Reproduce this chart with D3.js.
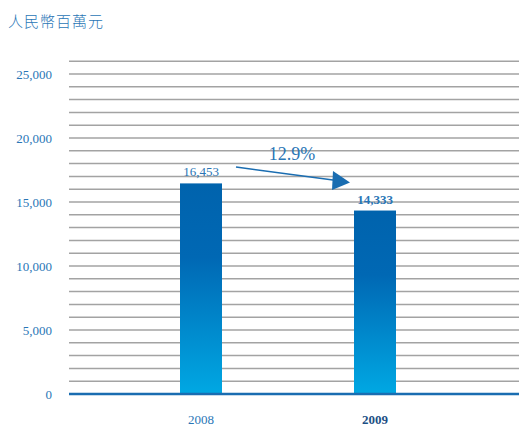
<!DOCTYPE html>
<html><head><meta charset="utf-8">
<script src="https://cdn.jsdelivr.net/npm/d3@7"></script>
<style>body{margin:0;background:#fff}svg{display:block}</style>
</head><body>
<script>
const categories = ["2008", "2009"];
const values = [16453, 14333];
const valueLabels = ["16,453", "14,333"];
const yTicks = [0, 5000, 10000, 15000, 20000, 25000];
const gridValues = d3.range(1000, 26001, 1000);
const unitLabel = "人民幣百萬元";
const changeLabel = "12.9%";

const W = 519, H = 427;
const svg = d3.select("body").append("svg").attr("width", W).attr("height", H);
const y = d3.scaleLinear().domain([0, 25000]).range([394, 74]);
const x = d3.scaleBand().domain(categories).range([114, 462]);
const barW = 42;
const blue = "#2a76b6";

const defs = svg.append("defs");
const g = defs.append("linearGradient").attr("id", "bg").attr("x1", 0).attr("y1", 0).attr("x2", 0).attr("y2", 1);
g.append("stop").attr("offset", "0%").attr("stop-color", "#0063ad");
g.append("stop").attr("offset", "35%").attr("stop-color", "#0068b4");
g.append("stop").attr("offset", "100%").attr("stop-color", "#00a8e3");

svg.append("text").attr("x", 8).attr("y", 27).attr("fill", blue)
  .attr("font-family", "Noto Sans CJK TC").attr("font-size", 15).attr("font-weight", 300)
  .attr("letter-spacing", 1).text(unitLabel);

svg.append("g").selectAll("line").data(gridValues).join("line")
  .attr("x1", 69).attr("x2", W).attr("y1", d => y(d)).attr("y2", d => y(d))
  .attr("stroke", "#a3a3a3").attr("stroke-width", 1.5);

svg.append("g").selectAll("text").data(yTicks).join("text")
  .attr("x", 52).attr("y", d => y(d) + 4.5).attr("text-anchor", "end")
  .attr("font-family", "Liberation Serif").attr("font-size", 13).attr("fill", blue)
  .text(d => d3.format(",")(d));

svg.append("g").selectAll("rect").data(values).join("rect")
  .attr("x", (d, i) => x(categories[i]) + (x.bandwidth() - barW) / 2)
  .attr("width", barW)
  .attr("y", d => y(d)).attr("height", d => y(0) - y(d))
  .attr("fill", "url(#bg)");

svg.append("line").attr("x1", 69).attr("x2", W).attr("y1", y(0)).attr("y2", y(0))
  .attr("stroke", "#1a6db1").attr("stroke-width", 2.5);

svg.append("g").selectAll("text").data(values).join("text")
  .attr("x", (d, i) => x(categories[i]) + x.bandwidth() / 2)
  .attr("y", d => y(d) - 7)
  .attr("text-anchor", "middle").attr("font-family", "Liberation Serif").attr("font-size", 13)
  .attr("font-weight", (d, i) => i === 1 ? "bold" : "normal").attr("fill", blue)
  .text((d, i) => valueLabels[i]);

svg.append("g").selectAll("text").data(categories).join("text")
  .attr("x", d => x(d) + x.bandwidth() / 2).attr("y", 424)
  .attr("text-anchor", "middle").attr("font-family", "Liberation Serif").attr("font-size", 13)
  .attr("font-weight", (d, i) => i === 1 ? "bold" : "normal")
  .attr("fill", (d, i) => i === 1 ? "#1d4f85" : blue)
  .text(d => d);

// change arrow
const x0 = x(categories[0]) + x.bandwidth() / 2, x1 = x(categories[1]) + x.bandwidth() / 2;
svg.append("line").attr("x1", x0 + 35).attr("y1", 167).attr("x2", x1 - 42).attr("y2", 180)
  .attr("stroke", "#1a6db1").attr("stroke-width", 1.5);
svg.append("path")
  .attr("d", `M${x1 - 42},171 L${x1 - 25},182.5 L${x1 - 43},190 Z`)
  .attr("fill", "#1a6db1");
svg.append("text").attr("x", (x0 + x1) / 2 + 4).attr("y", 160).attr("text-anchor", "middle")
  .attr("font-family", "Liberation Serif").attr("font-size", 18).attr("fill", blue).text(changeLabel);
</script>
</body></html>
